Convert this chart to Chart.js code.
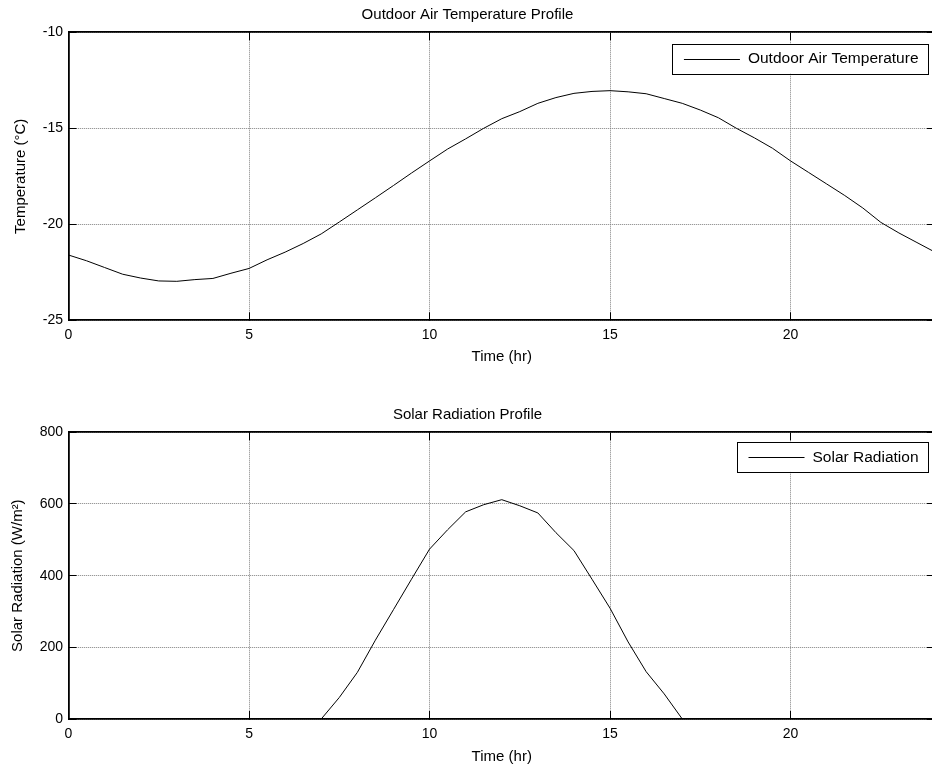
<!DOCTYPE html>
<html>
<head>
<meta charset="utf-8">
<script src="https://cdn.jsdelivr.net/npm/chart.js@4/dist/chart.umd.min.js"></script>
<style>
  html, body { margin: 0; padding: 0; background: #fff; overflow: hidden; width: 932px; height: 772px; }
  canvas { position: absolute; left: 0; }
  #c1 { top: 0; }
  #c2 { top: 400px; }
</style>
</head>
<body>
<canvas id="c1" width="940" height="372"></canvas>
<canvas id="c2" width="940" height="372"></canvas>
<script>
// ---- data ----
const hours = [0,0.5,1,1.5,2,2.5,3,3.5,4,4.5,5,5.5,6,6.5,7,7.5,8,8.5,9,9.5,10,10.5,11,11.5,12,12.5,13,13.5,14,14.5,15,15.5,16,16.5,17,17.5,18,18.5,19,19.5,20,20.5,21,21.5,22,22.5,23,23.5,24];
const temperature = [-21.6,-21.9,-22.25,-22.6,-22.8,-22.95,-22.97,-22.88,-22.82,-22.55,-22.3,-21.85,-21.45,-21.0,-20.5,-19.88,-19.25,-18.62,-17.98,-17.33,-16.7,-16.08,-15.55,-15.0,-14.5,-14.13,-13.7,-13.4,-13.18,-13.08,-13.04,-13.1,-13.2,-13.45,-13.7,-14.05,-14.45,-15.0,-15.5,-16.04,-16.7,-17.3,-17.9,-18.5,-19.15,-19.9,-20.45,-20.95,-21.45];
const solarRadiation = [0,0,0,0,0,0,0,0,0,0,0,0,0,0,0,60,130,220,305,390,474,528,578,598,612,595,575,520,470,390,309,215,132,70,0,0,0,0,0,0,0,0,0,0,0,0,0,0,0];
const timeTicks = [0,5,10,15,20];
const tempTicks = [-25,-20,-15,-10];
const solarTicks = [0,200,400,600,800];

const FONT = '"Liberation Sans", Arial, sans-serif';

const boxLegend = {
  id: 'boxLegend',
  afterDatasetsDraw(chart, args, o) {
    const {ctx, chartArea} = chart;
    const label = chart.data.datasets[0].label;
    ctx.save();
    ctx.font = '15.5px ' + FONT;
    const tw = ctx.measureText(label).width;
    const w = 12 + 56 + 8 + tw + 9.5;
    const h = 29.5;
    const right = chartArea.right - o.right;
    const left = right - w;
    const top = chartArea.top + o.top;
    ctx.fillStyle = '#fff';
    ctx.fillRect(left, top, w, h);
    ctx.strokeStyle = '#000';
    ctx.lineWidth = 1;
    ctx.strokeRect(Math.round(left) + 0.5, Math.round(top) + 0.5, Math.round(w), Math.round(h));
    const cy = Math.round(top + h / 2) + 0.5;
    ctx.beginPath();
    ctx.moveTo(left + 12, cy);
    ctx.lineTo(left + 68, cy);
    ctx.stroke();
    ctx.fillStyle = '#000';
    ctx.textBaseline = 'middle';
    ctx.textAlign = 'left';
    ctx.fillText(label, left + 76, top + h / 2 + 0.5);
    ctx.restore();
  }
};

function setTicks(values) {
  return function (scale) { scale.ticks = values.map(v => ({ value: v })); };
}

function makeChart(id, p) {
  const H = 372;
  const gridCommon = {
    color: '#808080',
    lineWidth: 1,
    drawTicks: true,
    tickLength: -8,
    tickColor: '#000',
    tickWidth: 1
  };
  const borderCommon = { display: true, color: '#000', width: 1.8, dash: [1, 1] };
  const tickFont = { family: FONT, size: 14 };
  return new Chart(document.getElementById(id), {
    type: 'line',
    data: {
      datasets: [{
        label: p.label,
        data: hours.map((h, i) => ({ x: h, y: p.values[i] })),
        borderColor: '#000',
        borderWidth: 1,
        pointRadius: 0,
        tension: 0,
        fill: false
      }]
    },
    options: {
      responsive: false,
      animation: false,
      devicePixelRatio: 1,
      events: [],
      layout: { padding: { left: 0, right: 5, top: 0, bottom: 0 } },
      plugins: {
        legend: { display: false },
        tooltip: { enabled: false },
        title: {
          display: true,
          text: p.title,
          color: '#000',
          font: { family: FONT, size: 15, weight: 'normal' },
          padding: { top: p.titleTop, bottom: p.titleBottom }
        },
        boxLegend: { right: 7, top: p.legendTop }
      },
      scales: {
        x: {
          type: 'linear', position: 'bottom', min: 0, max: 24,
          afterBuildTicks: setTicks(timeTicks),
          afterFit: s => { s.height = H - p.chartBottom; },
          grid: Object.assign({}, gridCommon),
          border: Object.assign({}, borderCommon),
          ticks: { color: '#000', font: tickFont, padding: 14.5, maxRotation: 0, autoSkip: false },
          title: {
            display: true, text: 'Time (hr)', color: '#000',
            font: { family: FONT, size: 15 },
            padding: { top: 0, bottom: p.xTitleBottom }
          }
        },
        xTop: {
          type: 'linear', position: 'top', min: 0, max: 24,
          afterBuildTicks: setTicks(timeTicks),
          afterFit: s => { s.height = 0; },
          grid: Object.assign({}, gridCommon, { drawOnChartArea: false }),
          border: { display: true, color: '#000', width: 1.8 },
          ticks: { display: false }
        },
        y: {
          type: 'linear', position: 'left', min: p.ymin, max: p.ymax,
          afterBuildTicks: setTicks(p.yTicks),
          afterFit: s => { s.width = 68.5; },
          grid: Object.assign({}, gridCommon),
          border: Object.assign({}, borderCommon),
          ticks: { color: '#000', font: tickFont, padding: 13.5, autoSkip: false },
          title: {
            display: true, text: p.yTitle, color: '#000',
            font: { family: FONT, size: 15 },
            padding: { top: p.yTitleTop, bottom: 0 }
          }
        },
        yRight: {
          type: 'linear', position: 'right', min: p.ymin, max: p.ymax,
          afterBuildTicks: setTicks(p.yTicks),
          afterFit: s => { s.width = 0; },
          grid: Object.assign({}, gridCommon, { drawOnChartArea: false }),
          border: { display: true, color: '#000', width: 1.8 },
          ticks: { display: false }
        }
      }
    },
    plugins: [boxLegend]
  });
}

makeChart('c1', {
  label: 'Outdoor Air Temperature',
  values: temperature,
  title: 'Outdoor Air Temperature Profile',
  titleTop: 5.5, titleBottom: 8.8,
  chartBottom: 320.3,
  xTitleBottom: 6.5,
  yTitle: 'Temperature (°C)',
  yTitleTop: 12,
  ymin: -25, ymax: -10, yTicks: tempTicks,
  legendTop: 11.5
});

makeChart('c2', {
  label: 'Solar Radiation',
  values: solarRadiation,
  title: 'Solar Radiation Profile',
  titleTop: 5.7, titleBottom: 8.6,
  chartBottom: 319,
  xTitleBottom: 6,
  yTitle: 'Solar Radiation (W/m²)',
  yTitleTop: 9,
  ymin: 0, ymax: 800, yTicks: solarTicks,
  legendTop: 10
});
</script>
</body>
</html>
